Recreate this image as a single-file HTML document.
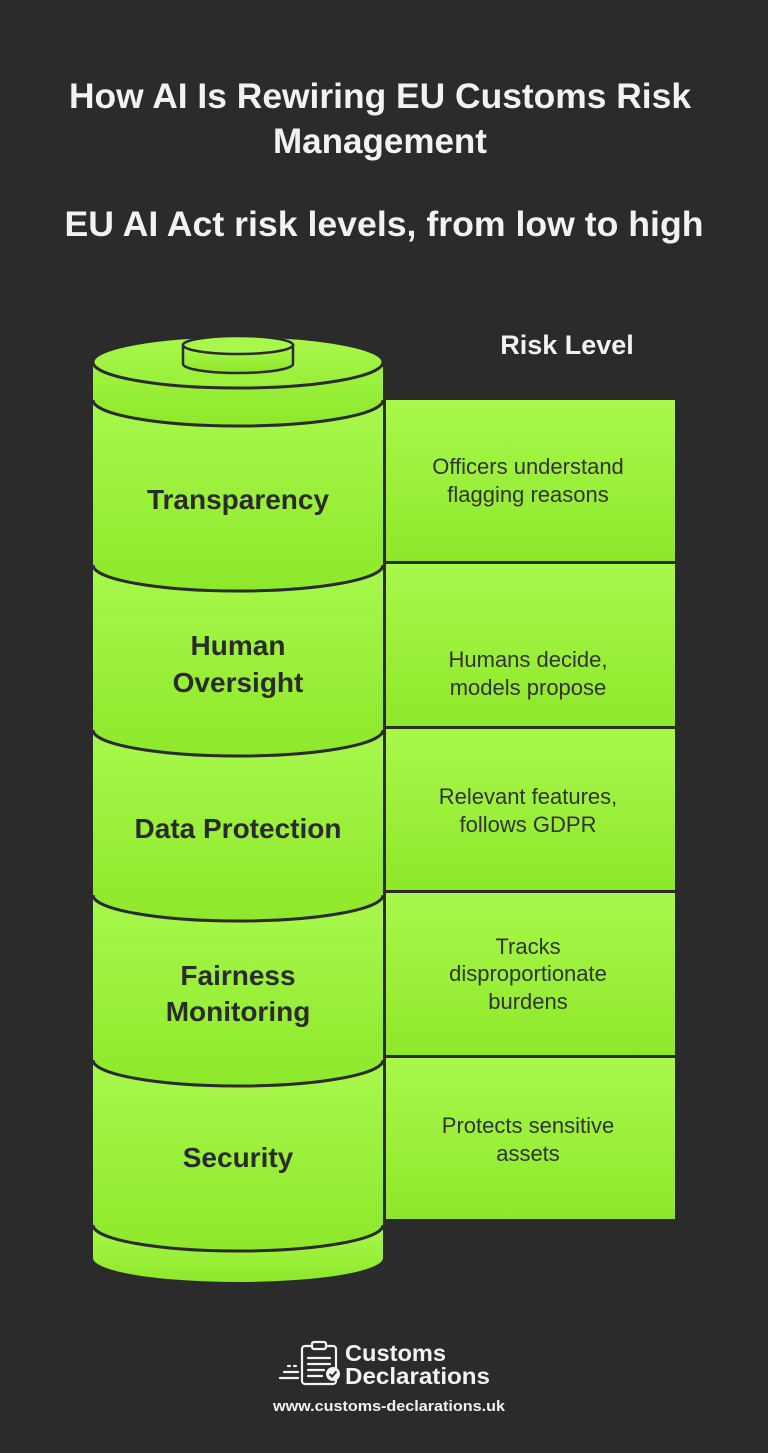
<!DOCTYPE html>
<html><head><meta charset="utf-8">
<style>
html,body{margin:0;padding:0;background:#2b2b2b;}
svg{display:block;}
text{font-family:"Liberation Sans",sans-serif;}
</style></head>
<body>
<svg width="768" height="1453" viewBox="0 0 768 1453" xmlns="http://www.w3.org/2000/svg">
<defs>
<linearGradient id="g" x1="0" y1="0" x2="0" y2="1">
<stop offset="0" stop-color="#a8f84c"/><stop offset="1" stop-color="#8ee82a"/>
</linearGradient>
</defs>
<rect width="768" height="1453" fill="#2b2b2b"/>
<g fill="#f2f2f2" font-weight="bold" text-anchor="middle">
<text x="380" y="108" font-size="35" textLength="622" lengthAdjust="spacingAndGlyphs">How AI Is Rewiring EU Customs Risk</text>
<text x="380" y="153" font-size="35">Management</text>
<text x="384" y="236" font-size="35" textLength="639" lengthAdjust="spacingAndGlyphs">EU AI Act risk levels, from low to high</text>
<text x="567" y="354" font-size="27">Risk Level</text>
</g>

<g fill="url(#g)">
<rect x="386" y="400" width="289" height="161"/>
<rect x="386" y="564" width="289" height="162"/>
<rect x="386" y="729" width="289" height="161"/>
<rect x="386" y="893" width="289" height="162"/>
<rect x="386" y="1058" width="289" height="161"/>
</g>

<path d="M93,1225 A145,26 0 0 0 383,1225 L383,1258 A145,24 0 0 1 93,1258 Z" fill="url(#g)"/>
<g fill="url(#g)">
<path d="M93,400 A145,26 0 0 0 383,400 L383,565 A145,26 0 0 1 93,565 Z"/>
<path d="M93,565 A145,26 0 0 0 383,565 L383,730 A145,26 0 0 1 93,730 Z"/>
<path d="M93,730 A145,26 0 0 0 383,730 L383,895 A145,26 0 0 1 93,895 Z"/>
<path d="M93,895 A145,26 0 0 0 383,895 L383,1060 A145,26 0 0 1 93,1060 Z"/>
<path d="M93,1060 A145,26 0 0 0 383,1060 L383,1225 A145,26 0 0 1 93,1225 Z"/>
<path d="M93,362 A145,26 0 0 1 383,362 L383,400 A145,26 0 0 1 93,400 Z"/>
</g>
<g fill="none" stroke="#2b2b2b" stroke-width="3">
<ellipse cx="238" cy="362" rx="145" ry="26"/>
<path d="M93,400 A145,26 0 0 0 383,400"/>
<path d="M93,565 A145,26 0 0 0 383,565"/>
<path d="M93,730 A145,26 0 0 0 383,730"/>
<path d="M93,895 A145,26 0 0 0 383,895"/>
<path d="M93,1060 A145,26 0 0 0 383,1060"/>
<path d="M93,1225 A145,26 0 0 0 383,1225"/>
</g>
<path d="M183,345 L183,364 A55,9 0 0 0 293,364 L293,345 Z" fill="url(#g)" stroke="#2b2b2b" stroke-width="2.5"/>
<ellipse cx="238" cy="345" rx="55" ry="9" fill="#a8f84c" stroke="#2b2b2b" stroke-width="2.5"/>

<g fill="#2b2b2b" font-weight="bold" font-size="28" text-anchor="middle">
<text x="238" y="509">Transparency</text>
<text x="238" y="655">Human</text>
<text x="238" y="692">Oversight</text>
<text x="238" y="838">Data Protection</text>
<text x="238" y="985">Fairness</text>
<text x="238" y="1021">Monitoring</text>
<text x="238" y="1167">Security</text>
</g>
<g fill="#333" font-size="22" text-anchor="middle">
<text x="528" y="474">Officers understand</text>
<text x="528" y="502">flagging reasons</text>
<text x="528" y="667">Humans decide,</text>
<text x="528" y="695">models propose</text>
<text x="528" y="804">Relevant features,</text>
<text x="528" y="832">follows GDPR</text>
<text x="528" y="954">Tracks</text>
<text x="528" y="981">disproportionate</text>
<text x="528" y="1009">burdens</text>
<text x="528" y="1133">Protects sensitive</text>
<text x="528" y="1161">assets</text>
</g>

<g fill="none" stroke="#f2f2f2" stroke-width="2.2" stroke-linecap="round">
<rect x="302" y="1346" width="34" height="38" rx="3"/>
<rect x="312" y="1342" width="14" height="7" rx="2" fill="#2b2b2b"/>
<line x1="308" y1="1358" x2="330" y2="1358"/>
<line x1="308" y1="1364" x2="330" y2="1364"/>
<line x1="308" y1="1370" x2="324" y2="1370"/>
<line x1="308" y1="1376" x2="322" y2="1376"/>
<line x1="284" y1="1372" x2="298" y2="1372"/>
<line x1="280" y1="1378" x2="298" y2="1378"/>
<line x1="288" y1="1366" x2="290" y2="1366"/>
<line x1="294" y1="1366" x2="296" y2="1366"/>
</g>
<circle cx="333" cy="1374" r="7" fill="#f2f2f2"/>
<path d="M329.5,1374 l2.5,2.5 l4.5,-5" stroke="#2b2b2b" stroke-width="2" fill="none"/>
<g fill="#f2f2f2" font-weight="bold">
<text x="345" y="1361" font-size="23" textLength="101" lengthAdjust="spacingAndGlyphs">Customs</text>
<text x="345" y="1384" font-size="23" textLength="145" lengthAdjust="spacingAndGlyphs">Declarations</text>
<text x="389" y="1411" font-size="15" text-anchor="middle" textLength="232" lengthAdjust="spacingAndGlyphs">www.customs-declarations.uk</text>
</g>
</svg>
</body></html>
